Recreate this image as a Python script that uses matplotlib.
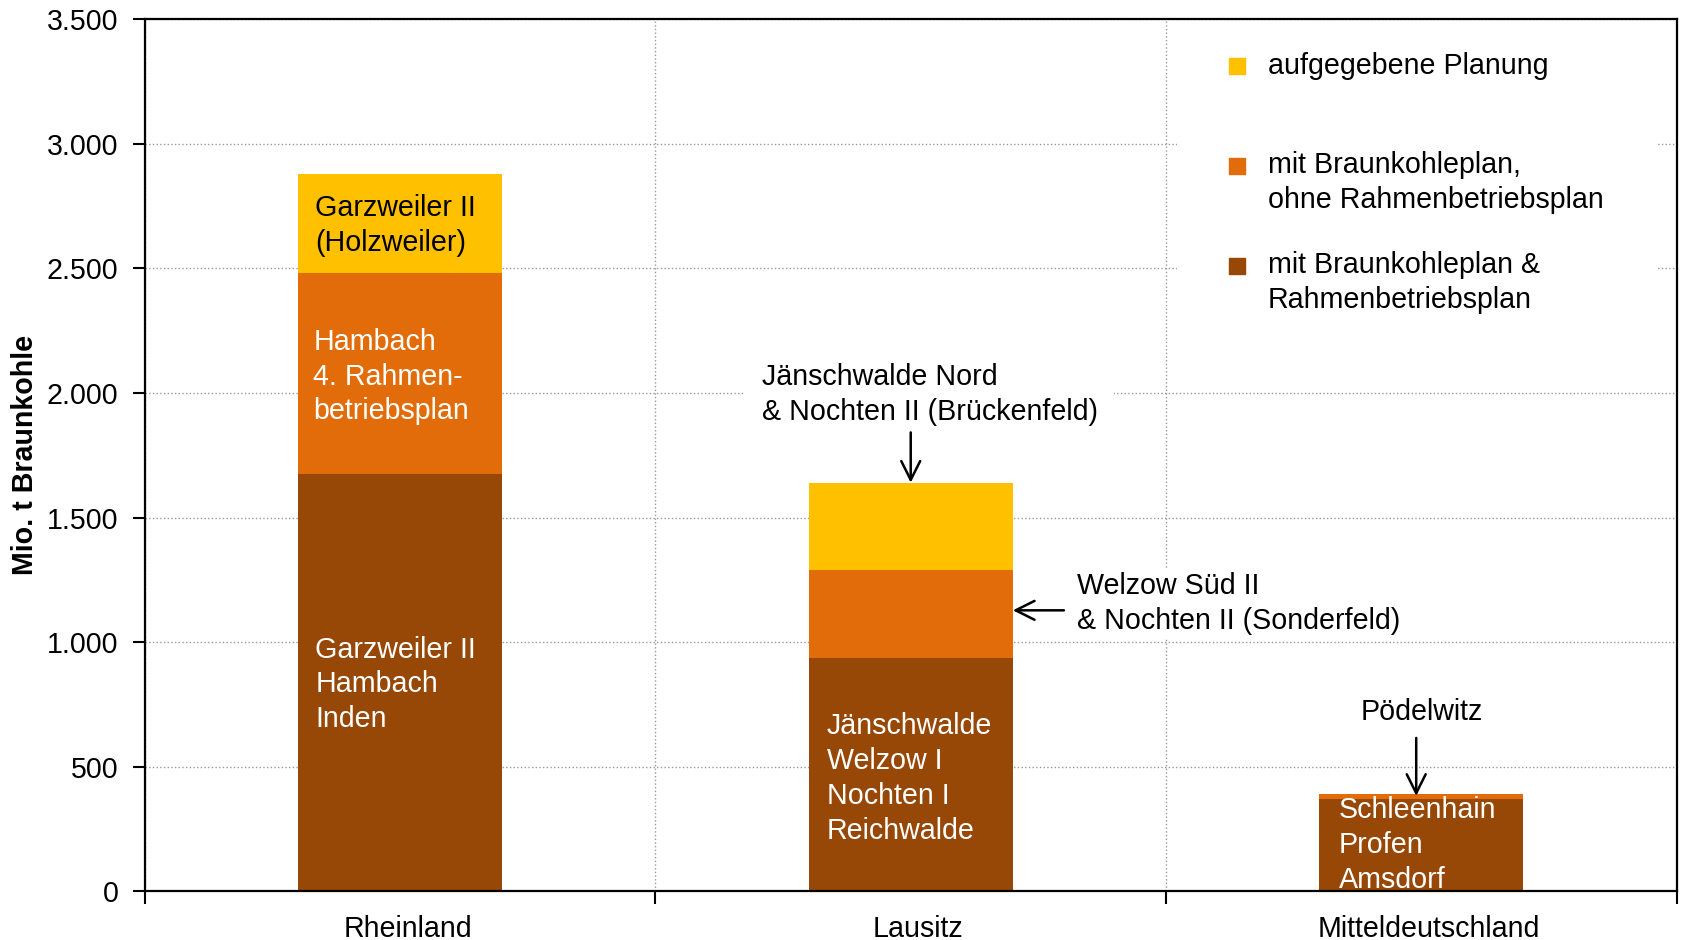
import numpy as np
import matplotlib
matplotlib.use("Agg")
import matplotlib.pyplot as plt
from matplotlib.ticker import FuncFormatter

# ---------- Data ---------- #
regions = ["Rheinland", "Lausitz", "Mitteldeutschland"]
genehmigt = [1675, 938, 370]        # mit Braunkohleplan & Rahmenbetriebsplan
ohne_rbp = [805, 350, 22]           # mit Braunkohleplan, ohne Rahmenbetriebsplan
aufgegeben = [400, 352, 0]          # aufgegebene Planung

legend_labels = ["aufgegebene Planung",
                 "mit Braunkohleplan,\nohne Rahmenbetriebsplan",
                 "mit Braunkohleplan &\nRahmenbetriebsplan"]

c_yellow = "#FFC000"
c_orange = "#E36C0A"
c_brown = "#974706"

plt.rcParams['font.family'] = ['Liberation Sans', 'DejaVu Sans']
FS = 20.6

# ---------- Figure ---------- #
fig = plt.figure(figsize=(16.82, 9.40), dpi=100)
ax = fig.add_axes([0.0861, 0.0517, 0.9107, 0.9278])

x = np.arange(len(regions)) + 0.5
w = 0.40
b1 = np.array(genehmigt)
b2 = b1 + np.array(ohne_rbp)
ax.bar(x, genehmigt, w, color=c_brown, zorder=3)
ax.bar(x, ohne_rbp, w, bottom=b1, color=c_orange, zorder=3)
ax.bar(x, aufgegeben, w, bottom=b2, color=c_yellow, zorder=3)

ax.set_xlim(0, 3)
ax.set_ylim(0, 3500)
ax.set_yticks(np.arange(0, 3501, 500))
ax.yaxis.set_major_formatter(FuncFormatter(lambda v, p: f"{int(v):,}".replace(",", ".")))
ax.set_xticks([0, 1, 2, 3])
ax.set_xticklabels([])
ax.set_xticks(x + 0.015, minor=True)
ax.set_xticklabels(regions, minor=True, fontsize=FS)
ax.tick_params(axis='x', which='minor', length=0, pad=17)
ax.tick_params(axis='x', which='major', length=9, width=1.5, direction='out')
ax.tick_params(axis='y', length=9, width=1.5, direction='out', labelsize=FS, pad=10)

ax.grid(True, axis='both', which='major', color='#999999', linestyle=':', linewidth=1.0, zorder=0)
for s in ax.spines.values():
    s.set_linewidth(1.6)
    s.set_zorder(5)

ax.set_ylabel("Mio. t Braunkohle", fontsize=FS, fontweight='bold')
ax.yaxis.set_label_coords(-0.069, 0.5)

# ---------- Text inside bars ---------- #
ls = 1.31
ax.text(0.334, 2671, "Garzweiler II\n(Holzweiler)", color='black', fontsize=FS,
        va='center', ha='left', linespacing=ls, zorder=4)
ax.text(0.330, 2066, "Hambach\n4. Rahmen-\nbetriebsplan", color='white', fontsize=FS,
        va='center', ha='left', linespacing=ls, zorder=4)
ax.text(0.334, 831, "Garzweiler II\nHambach\nInden", color='white', fontsize=FS,
        va='center', ha='left', linespacing=ls, zorder=4)
ax.text(1.336, 454, "Jänschwalde\nWelzow I\nNochten I\nReichwalde", color='white', fontsize=FS,
        va='center', ha='left', linespacing=ls, zorder=4)
ax.text(2.338, 186, "Schleenhain\nProfen\nAmsdorf", color='white', fontsize=FS,
        va='center', ha='left', linespacing=ls, zorder=4)

# ---------- Annotations ---------- #
arr = dict(arrowstyle='->', lw=1.8, color='black', mutation_scale=34, shrinkA=0, shrinkB=0)
ax.text(1.208, 1995, "Jänschwalde Nord\n& Nochten II (Brückenfeld)", fontsize=FS,
        va='center', ha='left', linespacing=ls, zorder=4,
        bbox=dict(facecolor='white', edgecolor='none', pad=12))
ax.annotate("", xy=(1.5, 1640), xytext=(1.5, 1842), arrowprops=arr, zorder=6)
ax.text(1.826, 1156, "Welzow Süd II\n& Nochten II (Sonderfeld)", fontsize=FS,
        va='center', ha='left', linespacing=ls, zorder=4,
        bbox=dict(facecolor='white', edgecolor='none', pad=3))
ax.annotate("", xy=(1.70, 1128), xytext=(1.80, 1128), arrowprops=arr, zorder=6)
ax.text(2.5, 718, "Pödelwitz", fontsize=FS, va='center', ha='center', zorder=4)
ax.annotate("", xy=(2.49, 383), xytext=(2.49, 616), arrowprops=arr, zorder=6)

# ---------- Legend (manual) ---------- #
ax.add_patch(plt.Rectangle((0.674, 0.653), 0.313, 0.345, transform=ax.transAxes,
                           facecolor='white', edgecolor='none', zorder=2))
leg_colors = [c_yellow, c_orange, c_brown]
mark_y = [0.946, 0.8315, 0.717]
text_y = [0.946, 0.8124, 0.698]
for col, my, ty, lab in zip(leg_colors, mark_y, text_y, legend_labels):
    ax.scatter([0.713], [my], marker='s', s=130, color=col, transform=ax.transAxes,
               zorder=4, clip_on=False)
    ax.text(0.733, ty, lab, fontsize=FS, va='center', ha='left', linespacing=ls,
            transform=ax.transAxes, zorder=4)

fig.savefig("out.png", dpi=100)
